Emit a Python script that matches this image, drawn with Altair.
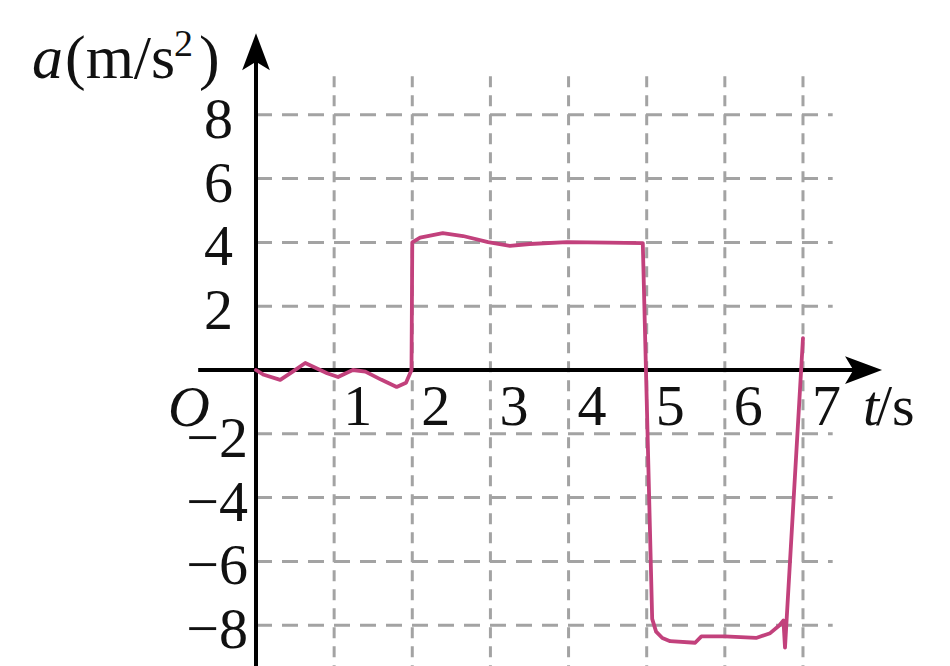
import altair as alt
import pandas as pd

# ---- data ----
# acceleration curve a(t)
T = [0.0, 0.1, 0.31, 0.47, 0.63, 0.78, 0.91, 1.05, 1.15, 1.24,
     1.4, 1.6, 1.8, 1.92, 1.99, 2.0, 2.1, 2.39, 2.65, 2.97,
     3.25, 3.5, 3.98, 4.5, 4.95, 5.07, 5.12, 5.2, 5.3,
     5.62, 5.7, 6.0, 6.4, 6.58, 6.7, 6.75, 6.77, 7.0]
A = [0.0, -0.15, -0.31, -0.05, 0.22, 0.05, -0.1, -0.22, -0.1, 0.0,
     -0.05, -0.3, -0.53, -0.4, 0.0, 4.0, 4.15, 4.29, 4.2, 4.01,
     3.89, 3.95, 4.01, 3.99, 3.98, -7.8, -8.2, -8.4, -8.5,
     -8.55, -8.35, -8.35, -8.4, -8.25, -8.0, -7.85, -8.7, 1.0]

X_TICKS = [1, 2, 3, 4, 5, 6, 7]
Y_TICKS = [8, 6, 4, 2, -2, -4, -6, -8]
X_LABELS = ["1", "2", "3", "4", "5", "6", "7"]
Y_LABELS = ["8", "6", "4", "2", "\u22122", "\u22124", "\u22126", "\u22128"]

# extents of grid / axes (in data units)
GRID_T_END = 7.38
GRID_A_TOP = 9.25
AXIS_T = [-0.74, 7.7]
AXIS_A = [-9.6, 9.9]
ARROW_X_T = 7.775
ARROW_Y_A = 9.98

# ---- scales ----
W, H = 934, 658
X_DOM = [-3.1738, 8.7791]
Y_DOM = [11.348 - 658 / 31.9, 11.348]
xs = alt.Scale(domain=X_DOM, zero=False, nice=False)
ys = alt.Scale(domain=Y_DOM, zero=False, nice=False)

FONT = "Liberation Serif"
FS = 58
GRID_COLOR = "#a3a3a3"
CURVE_COLOR = "#c2417c"

curve_df = pd.DataFrame({"t": T, "a": A, "i": range(len(T))})
hgrid_df = pd.DataFrame({"a": Y_TICKS, "t0": [0] * len(Y_TICKS), "t1": [GRID_T_END] * len(Y_TICKS)})
vgrid_df = pd.DataFrame({"t": X_TICKS, "a0": [AXIS_A[0]] * len(X_TICKS), "a1": [GRID_A_TOP] * len(X_TICKS)})
xlab_df = pd.DataFrame({"t": X_TICKS, "lab": X_LABELS})
ylab_df = pd.DataFrame({"a": Y_TICKS, "lab": Y_LABELS})
ypos_df = ylab_df[ylab_df["a"] > 0]
yneg_df = ylab_df[ylab_df["a"] < 0]

X = lambda f: alt.X(f, scale=xs, axis=None)
Y = lambda f: alt.Y(f, scale=ys, axis=None)

hgrid = alt.Chart(hgrid_df).mark_rule(
    color=GRID_COLOR, strokeWidth=3, strokeDash=[16, 10]
).encode(x=X("t0:Q"), x2="t1:Q", y=Y("a:Q"))

vgrid = alt.Chart(vgrid_df).mark_rule(
    color=GRID_COLOR, strokeWidth=3, strokeDash=[11, 8]
).encode(x=X("t:Q"), y=Y("a0:Q"), y2="a1:Q")

x_axis = alt.Chart(pd.DataFrame({"t0": [AXIS_T[0]], "t1": [AXIS_T[1]], "a": [0]})).mark_rule(
    color="black", strokeWidth=4
).encode(x=X("t0:Q"), x2="t1:Q", y=Y("a:Q"))

y_axis = alt.Chart(pd.DataFrame({"a0": [AXIS_A[0]], "a1": [AXIS_A[1]], "t": [0]})).mark_rule(
    color="black", strokeWidth=4
).encode(x=X("t:Q"), y=Y("a0:Q"), y2="a1:Q")

ARROW = "M1,0L-1,-0.75L-0.55,0L-1,0.75Z"
arrows_df = pd.DataFrame({"t": [ARROW_X_T, 0], "a": [0, ARROW_Y_A], "ang": [0, 270]})
arrows = alt.Chart(arrows_df).mark_point(
    shape=ARROW, filled=True, color="black", opacity=1, size=1369, strokeWidth=0
).encode(x=X("t:Q"), y=Y("a:Q"), angle=alt.Angle("ang:Q", scale=None))

curve = alt.Chart(curve_df).mark_line(
    color=CURVE_COLOR, strokeWidth=3.8, strokeJoin="round", strokeCap="round"
).encode(x=X("t:Q"), y=Y("a:Q"), order="i:Q")

xlabels = alt.Chart(xlab_df).mark_text(
    font=FONT, fontSize=FS, align="left", baseline="alphabetic", dx=9, dy=55, color="#111"
).encode(x=X("t:Q"), y=alt.value(362), text="lab:N")

ylabels_pos = alt.Chart(ypos_df).mark_text(
    font=FONT, fontSize=FS, align="right", baseline="middle", dx=-23, dy=6, color="#111"
).encode(x=alt.value(248), y=Y("a:Q"), text="lab:N")

ylabels_neg = alt.Chart(yneg_df).mark_text(
    font=FONT, fontSize=FS, align="right", baseline="middle", dx=-8, dy=6, color="#111"
).encode(x=alt.value(248), y=Y("a:Q"), text="lab:N")

def txt(s, x, y, align="left", italic=False, size=FS):
    return alt.Chart(pd.DataFrame({"s": [s]})).mark_text(
        font=FONT, fontSize=size, align=align, baseline="alphabetic",
        fontStyle="italic" if italic else "normal", color="#111"
    ).encode(x=alt.value(x), y=alt.value(y), text="s:N")

title_a = txt("a", 55, 70, align="right", italic=True, size=62)
title_u = txt("(m/s", 57, 70, size=62)
title_sq = txt("2", 166, 48, size=38)
title_p = txt(")", 191, 70, size=62)
origin = txt("O", 202, 418, align="right", italic=True)
t_lab = txt("t", 855, 417, italic=True)
s_lab = txt("/s", 868, 417)

chart = alt.layer(
    hgrid, vgrid, x_axis, y_axis, arrows, curve,
    xlabels, ylabels_pos, ylabels_neg, title_a, title_u, title_sq, title_p,
    origin, t_lab, s_lab
).properties(
    width=W, height=H, padding=0, autosize=alt.AutoSizeParams(type="none"),
    background="white"
).configure_view(stroke=None)

chart.save("out.html", embed_options={"renderer": "svg", "actions": False})
